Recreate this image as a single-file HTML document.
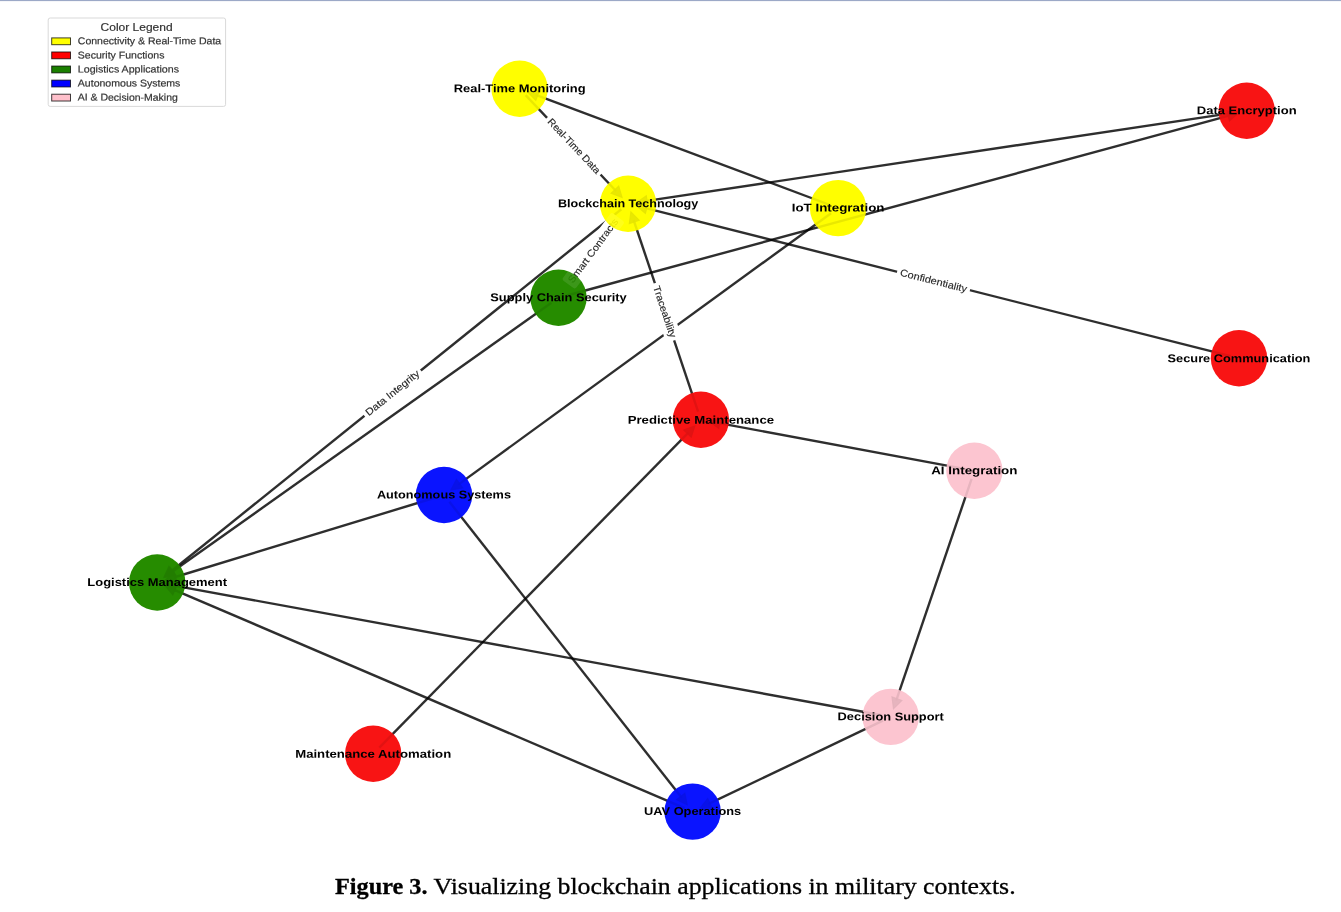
<!DOCTYPE html>
<html><head><meta charset="utf-8"><title>Figure 3</title>
<style>
html,body{margin:0;padding:0;background:#fff;}
body{width:1341px;height:912px;overflow:hidden;}
svg{display:block;filter:blur(0.45px);}
.nl{font-family:"Liberation Sans",sans-serif;font-weight:bold;font-size:11.4px;fill:#000;}
.el{font-family:"Liberation Sans",sans-serif;font-size:9.9px;fill:#262626;stroke:#262626;stroke-width:0.12px;}
.lg{font-family:"Liberation Sans",sans-serif;font-size:9.9px;fill:#333;stroke:#333;stroke-width:0.2px;}
.lt{font-family:"Liberation Sans",sans-serif;font-size:11.4px;fill:#333;stroke:#333;stroke-width:0.2px;}
.cap{font-family:"Liberation Serif",serif;font-size:24px;fill:#000;stroke:#000;stroke-width:0.3px;}
</style></head><body>
<svg width="1341" height="912" viewBox="0 0 1341 912">
<rect x="0" y="0" width="1341" height="912" fill="#ffffff"/>
<rect x="-5" y="-3" width="1351" height="4.1" fill="#9ca9c7"/>

<g id="legend">
<rect x="48.2" y="18" width="177.4" height="88.4" rx="2" ry="2" fill="#fff" stroke="#d9d9d9" stroke-width="1"/>
<text class="lt" x="100.6" y="30.6" textLength="72" lengthAdjust="spacingAndGlyphs">Color Legend</text>
<rect x="51.7" y="37.90" width="18.8" height="6.8" fill="#ffff00" stroke="#000" stroke-opacity="0.75" stroke-width="1"/>
<text class="lg" transform="rotate(0.03 77.8 44.30)" x="77.8" y="44.30" textLength="143.4" lengthAdjust="spacingAndGlyphs">Connectivity &amp; Real-Time Data</text>
<rect x="51.7" y="51.98" width="18.8" height="6.8" fill="#ff0000" stroke="#000" stroke-opacity="0.75" stroke-width="1"/>
<text class="lg" transform="rotate(0.03 77.8 58.38)" x="77.8" y="58.38" textLength="86.6" lengthAdjust="spacingAndGlyphs">Security Functions</text>
<rect x="51.7" y="66.06" width="18.8" height="6.8" fill="#1a7f00" stroke="#000" stroke-opacity="0.75" stroke-width="1"/>
<text class="lg" transform="rotate(0.03 77.8 72.46)" x="77.8" y="72.46" textLength="101.2" lengthAdjust="spacingAndGlyphs">Logistics Applications</text>
<rect x="51.7" y="80.14" width="18.8" height="6.8" fill="#0000ff" stroke="#000" stroke-opacity="0.75" stroke-width="1"/>
<text class="lg" transform="rotate(0.03 77.8 86.54)" x="77.8" y="86.54" textLength="102.6" lengthAdjust="spacingAndGlyphs">Autonomous Systems</text>
<rect x="51.7" y="94.22" width="18.8" height="6.8" fill="#ffc0cb" stroke="#000" stroke-opacity="0.75" stroke-width="1"/>
<text class="lg" transform="rotate(0.03 77.8 100.62)" x="77.8" y="100.62" textLength="100.0" lengthAdjust="spacingAndGlyphs">AI &amp; Decision-Making</text>
</g>
<g id="edges" stroke="#000" stroke-opacity="0.82" stroke-width="2.4" fill="none" stroke-linecap="butt">
<line x1="525.6" y1="95.1" x2="616.3" y2="191.2"/>
<line x1="830.0" y1="205.0" x2="535.7" y2="94.8"/>
<line x1="1238.1" y1="112.1" x2="645.1" y2="201.1"/>
<line x1="1230.6" y1="356.2" x2="644.8" y2="207.9"/>
<line x1="698.1" y1="411.6" x2="633.6" y2="220.0"/>
<line x1="621.3" y1="209.2" x2="170.6" y2="571.7"/>
<line x1="551.4" y1="302.8" x2="171.2" y2="572.5"/>
<line x1="566.9" y1="295.5" x2="1230.1" y2="115.3"/>
<line x1="831.1" y1="213.2" x2="457.9" y2="484.9"/>
<line x1="435.7" y1="497.5" x2="173.7" y2="577.5"/>
<line x1="449.4" y1="501.8" x2="682.0" y2="798.1"/>
<line x1="965.8" y1="469.1" x2="717.8" y2="422.9"/>
<line x1="379.3" y1="747.6" x2="688.9" y2="432.1"/>
<line x1="971.6" y1="478.9" x2="896.2" y2="700.6"/>
<line x1="882.1" y1="715.3" x2="174.1" y2="585.6"/>
<line x1="684.6" y1="808.2" x2="173.0" y2="589.3"/>
<line x1="882.9" y1="720.7" x2="708.1" y2="804.2"/>
</g>
<g id="heads" fill="#000" fill-opacity="0.82" stroke="#000" stroke-opacity="0.82" stroke-width="1.2" stroke-linejoin="miter">
<polygon points="622.1,197.4 611.1,193.3 618.7,186.2"/>
<polygon points="527.7,91.9 539.4,90.7 535.8,100.4"/>
<polygon points="636.7,202.4 646.3,195.7 647.9,206.0"/>
<polygon points="636.5,205.8 648.0,203.4 645.4,213.5"/>
<polygon points="630.9,211.9 639.2,220.2 629.3,223.6"/>
<polygon points="164.0,577.0 168.9,566.4 175.4,574.5"/>
<polygon points="164.3,577.5 169.9,567.1 175.9,575.6"/>
<polygon points="1238.3,113.1 1229.5,120.9 1226.8,110.8"/>
<polygon points="451.0,489.9 456.5,479.5 462.6,487.9"/>
<polygon points="165.5,580.0 174.0,571.9 177.1,581.9"/>
<polygon points="687.2,804.8 676.7,799.7 684.8,793.3"/>
<polygon points="709.5,421.4 720.7,418.2 718.8,428.4"/>
<polygon points="694.8,426.0 691.2,437.1 683.7,429.9"/>
<polygon points="893.5,708.7 892.0,697.0 901.8,700.4"/>
<polygon points="165.8,584.1 177.0,580.8 175.1,591.1"/>
<polygon points="165.2,585.9 176.9,585.3 172.8,594.8"/>
<polygon points="700.4,807.8 707.7,798.6 712.2,808.0"/>
</g>
<g id="elabels">
<g transform="translate(573.9,146.2) rotate(46.64)"><rect x="-39.0" y="-8.3" width="78.0" height="16.6" rx="2.5" fill="#fff"/><text class="el" x="-35.8" y="3.1" textLength="71.6" lengthAdjust="spacingAndGlyphs">Real-Time Data</text></g>
<g transform="translate(933.5,281.0) rotate(14.20)"><rect x="-37.6" y="-8.3" width="75.2" height="16.6" rx="2.5" fill="#fff"/><text class="el" x="-34.4" y="3.1" textLength="68.8" lengthAdjust="spacingAndGlyphs">Confidentiality</text></g>
<g transform="translate(664.5,311.8) rotate(71.38)"><rect x="-30.2" y="-8.3" width="60.4" height="16.6" rx="2.5" fill="#fff"/><text class="el" x="-27.0" y="3.1" textLength="54.0" lengthAdjust="spacingAndGlyphs">Traceability</text></g>
<g transform="translate(593.3,250.8) rotate(-53.51)"><rect x="-41.8" y="-8.3" width="83.6" height="16.6" rx="2.5" fill="#fff"/><text class="el" x="-38.6" y="3.1" textLength="77.2" lengthAdjust="spacingAndGlyphs">Smart Contracts</text></g>
<g transform="translate(392.6,393.1) rotate(-38.81)"><rect x="-36.2" y="-8.3" width="72.4" height="16.6" rx="2.5" fill="#fff"/><text class="el" x="-33.0" y="3.1" textLength="66.0" lengthAdjust="spacingAndGlyphs">Data Integrity</text></g>
</g>
<defs><clipPath id="nc"><circle cx="519.6" cy="88.8" r="28.2"/><circle cx="628.1" cy="203.7" r="28.2"/><circle cx="838.1" cy="208.1" r="28.2"/><circle cx="1246.7" cy="110.8" r="28.2"/><circle cx="1239.0" cy="358.3" r="28.2"/><circle cx="558.5" cy="297.8" r="28.2"/><circle cx="700.9" cy="419.8" r="28.2"/><circle cx="974.4" cy="470.7" r="28.2"/><circle cx="444.0" cy="495.0" r="28.2"/><circle cx="157.2" cy="582.5" r="28.2"/><circle cx="890.7" cy="716.9" r="28.2"/><circle cx="373.2" cy="753.8" r="28.2"/><circle cx="692.6" cy="811.6" r="28.2"/></clipPath></defs>
<g id="nodes">
<circle cx="519.6" cy="88.8" r="28.2" fill="#fffe00"/>
<circle cx="628.1" cy="203.7" r="28.2" fill="#fffe00"/>
<circle cx="838.1" cy="208.1" r="28.2" fill="#fffe00"/>
<circle cx="1246.7" cy="110.8" r="28.2" fill="#f81414"/>
<circle cx="1239.0" cy="358.3" r="28.2" fill="#f81414"/>
<circle cx="558.5" cy="297.8" r="28.2" fill="#268c00"/>
<circle cx="700.9" cy="419.8" r="28.2" fill="#f81414"/>
<circle cx="974.4" cy="470.7" r="28.2" fill="#fcc5d0"/>
<circle cx="444.0" cy="495.0" r="28.2" fill="#0a14ff"/>
<circle cx="157.2" cy="582.5" r="28.2" fill="#268c00"/>
<circle cx="890.7" cy="716.9" r="28.2" fill="#fcc5d0"/>
<circle cx="373.2" cy="753.8" r="28.2" fill="#f81414"/>
<circle cx="692.6" cy="811.6" r="28.2" fill="#0a14ff"/>
</g>
<g id="overlay" clip-path="url(#nc)" opacity="0.1">
<g stroke="#000" stroke-opacity="0.82" stroke-width="2.4" fill="none" stroke-linecap="butt">
<line x1="525.6" y1="95.1" x2="616.3" y2="191.2"/>
<line x1="830.0" y1="205.0" x2="535.7" y2="94.8"/>
<line x1="1238.1" y1="112.1" x2="645.1" y2="201.1"/>
<line x1="1230.6" y1="356.2" x2="644.8" y2="207.9"/>
<line x1="698.1" y1="411.6" x2="633.6" y2="220.0"/>
<line x1="621.3" y1="209.2" x2="170.6" y2="571.7"/>
<line x1="551.4" y1="302.8" x2="171.2" y2="572.5"/>
<line x1="566.9" y1="295.5" x2="1230.1" y2="115.3"/>
<line x1="831.1" y1="213.2" x2="457.9" y2="484.9"/>
<line x1="435.7" y1="497.5" x2="173.7" y2="577.5"/>
<line x1="449.4" y1="501.8" x2="682.0" y2="798.1"/>
<line x1="965.8" y1="469.1" x2="717.8" y2="422.9"/>
<line x1="379.3" y1="747.6" x2="688.9" y2="432.1"/>
<line x1="971.6" y1="478.9" x2="896.2" y2="700.6"/>
<line x1="882.1" y1="715.3" x2="174.1" y2="585.6"/>
<line x1="684.6" y1="808.2" x2="173.0" y2="589.3"/>
<line x1="882.9" y1="720.7" x2="708.1" y2="804.2"/>
</g>
<g fill="#000" fill-opacity="0.82" stroke="#000" stroke-opacity="0.82" stroke-width="1.2" stroke-linejoin="miter">
<polygon points="622.1,197.4 611.1,193.3 618.7,186.2"/>
<polygon points="527.7,91.9 539.4,90.7 535.8,100.4"/>
<polygon points="636.7,202.4 646.3,195.7 647.9,206.0"/>
<polygon points="636.5,205.8 648.0,203.4 645.4,213.5"/>
<polygon points="630.9,211.9 639.2,220.2 629.3,223.6"/>
<polygon points="164.0,577.0 168.9,566.4 175.4,574.5"/>
<polygon points="164.3,577.5 169.9,567.1 175.9,575.6"/>
<polygon points="1238.3,113.1 1229.5,120.9 1226.8,110.8"/>
<polygon points="451.0,489.9 456.5,479.5 462.6,487.9"/>
<polygon points="165.5,580.0 174.0,571.9 177.1,581.9"/>
<polygon points="687.2,804.8 676.7,799.7 684.8,793.3"/>
<polygon points="709.5,421.4 720.7,418.2 718.8,428.4"/>
<polygon points="694.8,426.0 691.2,437.1 683.7,429.9"/>
<polygon points="893.5,708.7 892.0,697.0 901.8,700.4"/>
<polygon points="165.8,584.1 177.0,580.8 175.1,591.1"/>
<polygon points="165.2,585.9 176.9,585.3 172.8,594.8"/>
<polygon points="700.4,807.8 707.7,798.6 712.2,808.0"/>
</g>
<g>
<g transform="translate(573.9,146.2) rotate(46.64)"><rect x="-39.0" y="-8.3" width="78.0" height="16.6" rx="2.5" fill="#fff"/><text class="el" x="-35.8" y="3.1" textLength="71.6" lengthAdjust="spacingAndGlyphs">Real-Time Data</text></g>
<g transform="translate(933.5,281.0) rotate(14.20)"><rect x="-37.6" y="-8.3" width="75.2" height="16.6" rx="2.5" fill="#fff"/><text class="el" x="-34.4" y="3.1" textLength="68.8" lengthAdjust="spacingAndGlyphs">Confidentiality</text></g>
<g transform="translate(664.5,311.8) rotate(71.38)"><rect x="-30.2" y="-8.3" width="60.4" height="16.6" rx="2.5" fill="#fff"/><text class="el" x="-27.0" y="3.1" textLength="54.0" lengthAdjust="spacingAndGlyphs">Traceability</text></g>
<g transform="translate(593.3,250.8) rotate(-53.51)"><rect x="-41.8" y="-8.3" width="83.6" height="16.6" rx="2.5" fill="#fff"/><text class="el" x="-38.6" y="3.1" textLength="77.2" lengthAdjust="spacingAndGlyphs">Smart Contracts</text></g>
<g transform="translate(392.6,393.1) rotate(-38.81)"><rect x="-36.2" y="-8.3" width="72.4" height="16.6" rx="2.5" fill="#fff"/><text class="el" x="-33.0" y="3.1" textLength="66.0" lengthAdjust="spacingAndGlyphs">Data Integrity</text></g>
</g>
</g>
<g id="nlabels">
<text class="nl" transform="rotate(0.03 519.6 92.3)" x="453.7" y="92.3" textLength="131.9" lengthAdjust="spacingAndGlyphs">Real-Time Monitoring</text>
<text class="nl" transform="rotate(0.03 628.1 207.2)" x="558.0" y="207.2" textLength="140.3" lengthAdjust="spacingAndGlyphs">Blockchain Technology</text>
<text class="nl" transform="rotate(0.03 838.1 211.6)" x="791.7" y="211.6" textLength="92.8" lengthAdjust="spacingAndGlyphs">IoT Integration</text>
<text class="nl" transform="rotate(0.03 1246.7 114.3)" x="1196.8" y="114.3" textLength="99.8" lengthAdjust="spacingAndGlyphs">Data Encryption</text>
<text class="nl" transform="rotate(0.03 1239.0 362.3)" x="1167.6" y="362.3" textLength="142.8" lengthAdjust="spacingAndGlyphs">Secure Communication</text>
<text class="nl" transform="rotate(0.03 558.5 301.3)" x="490.3" y="301.3" textLength="136.4" lengthAdjust="spacingAndGlyphs">Supply Chain Security</text>
<text class="nl" transform="rotate(0.03 700.9 423.8)" x="627.7" y="423.8" textLength="146.4" lengthAdjust="spacingAndGlyphs">Predictive Maintenance</text>
<text class="nl" transform="rotate(0.03 974.4 474.2)" x="931.2" y="474.2" textLength="86.3" lengthAdjust="spacingAndGlyphs">AI Integration</text>
<text class="nl" transform="rotate(0.03 444.0 498.5)" x="376.9" y="498.5" textLength="134.1" lengthAdjust="spacingAndGlyphs">Autonomous Systems</text>
<text class="nl" transform="rotate(0.03 157.2 586.0)" x="87.3" y="586.0" textLength="139.7" lengthAdjust="spacingAndGlyphs">Logistics Management</text>
<text class="nl" transform="rotate(0.03 890.7 720.4)" x="837.6" y="720.4" textLength="106.2" lengthAdjust="spacingAndGlyphs">Decision Support</text>
<text class="nl" transform="rotate(0.03 373.2 757.8)" x="295.2" y="757.8" textLength="156.0" lengthAdjust="spacingAndGlyphs">Maintenance Automation</text>
<text class="nl" transform="rotate(0.03 692.6 815.1)" x="644.0" y="815.1" textLength="97.2" lengthAdjust="spacingAndGlyphs">UAV Operations</text>
</g>
<text class="cap" x="335" y="894.3" font-weight="bold" textLength="92.5" lengthAdjust="spacingAndGlyphs">Figure 3.</text>
<text class="cap" x="433.6" y="894.3" textLength="582" lengthAdjust="spacingAndGlyphs">Visualizing blockchain applications in military contexts.</text>
</svg></body></html>
